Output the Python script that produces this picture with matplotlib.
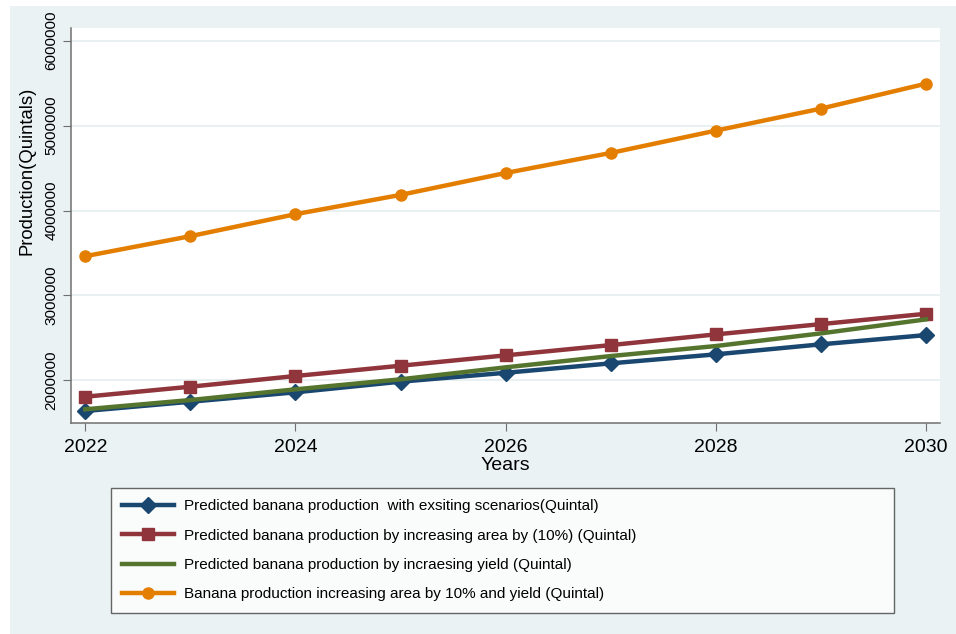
import matplotlib
matplotlib.use("Agg")
import matplotlib.pyplot as plt
from matplotlib.patches import Rectangle
from matplotlib.ticker import FuncFormatter

# values
years = [2022, 2023, 2024, 2025, 2026, 2027, 2028, 2029, 2030]
existing = [1639000, 1748000, 1859000, 1984000, 2089000, 2200000, 2306000, 2424000, 2533000]
area10 = [1807000, 1925000, 2051000, 2172000, 2294000, 2415000, 2541000, 2662000, 2784000]
yield_up = [1659000, 1768000, 1894000, 2012000, 2153000, 2286000, 2404000, 2553000, 2718000]
combined = [3462000, 3698000, 3957000, 4184000, 4442000, 4678000, 4941000, 5200000, 5494000]

labels = [
    "Predicted banana production  with exsiting scenarios(Quintal)",
    "Predicted banana production by increasing area by (10%) (Quintal)",
    "Predicted banana production by incraesing yield (Quintal)",
    "Banana production increasing area by 10% and yield (Quintal)",
]
x_ticks = [2022, 2024, 2026, 2028, 2030]
y_ticks = [2000000, 3000000, 4000000, 5000000, 6000000]

plt.rcParams['font.family'] = ['Liberation Sans', 'DejaVu Sans']

W, H = 956, 634
fig = plt.figure(figsize=(W / 100, H / 100), dpi=100, facecolor='white')
fig.patches.append(Rectangle((10 / W, 0), 1, (H - 6) / H, transform=fig.transFigure,
                             facecolor='#EAF2F3', edgecolor='none', zorder=-1))

ax = fig.add_axes([71 / W, 1 - 423.3 / H, (940 - 71) / W, (423.3 - 28.3) / H])
ax.set_facecolor('white')

lw = 3.2
ax.plot(years, existing, color='#1a476f', lw=lw, marker='D', ms=8.5, label=labels[0], zorder=3)
ax.plot(years, area10, color='#90353b', lw=lw, marker='s', ms=8.5, label=labels[1], zorder=3)
ax.plot(years, yield_up, color='#55752f', lw=lw, label=labels[2], zorder=3)
ax.plot(years, combined, color='#e37e00', lw=lw, marker='o', ms=8, label=labels[3], zorder=3)

ax.set_xlim(2021.864, 2030.133)
ax.set_ylim(1494000, 6146000)
ax.set_xticks(x_ticks)
ax.set_yticks(y_ticks)
ax.yaxis.set_major_formatter(FuncFormatter(lambda v, p: "%d" % v))
ax.grid(axis='y', color='#E4EDEF', lw=1.2, zorder=0)
ax.set_axisbelow(True)

for s in ['top', 'right']:
    ax.spines[s].set_visible(False)
for s in ['left', 'bottom']:
    ax.spines[s].set_color('#707070')
    ax.spines[s].set_linewidth(1.1)

ax.tick_params(axis='x', length=6, color='#707070', labelsize=14, pad=5)
ax.tick_params(axis='y', length=6, color='#707070', labelsize=11, pad=3)
for t in ax.get_yticklabels():
    t.set_rotation(90)
    t.set_va('center')

ax.set_xlabel("Years", fontsize=14, labelpad=1)
ax.set_ylabel("Production(Quintals)", fontsize=13.3, va='center')
ax.yaxis.set_label_coords((27 - 71) / (940 - 71), (423.3 - 171) / (423.3 - 28.3))

leg = fig.legend(loc='upper left',
                 bbox_to_anchor=(111 / W, 1 - 610 / H, (894 - 111) / W, (610 - 488) / H),
                 mode='expand', borderaxespad=0, ncol=1,
                 prop={'size': 11},
                 handlelength=3.4, handletextpad=0.6, borderpad=0.75, labelspacing=1.0,
                 fancybox=False, frameon=True)
leg.get_frame().set_edgecolor('#404040')
leg.get_frame().set_linewidth(1.0)
leg.get_frame().set_facecolor('white')

fig.savefig('out.png', dpi=100, facecolor=fig.get_facecolor())
